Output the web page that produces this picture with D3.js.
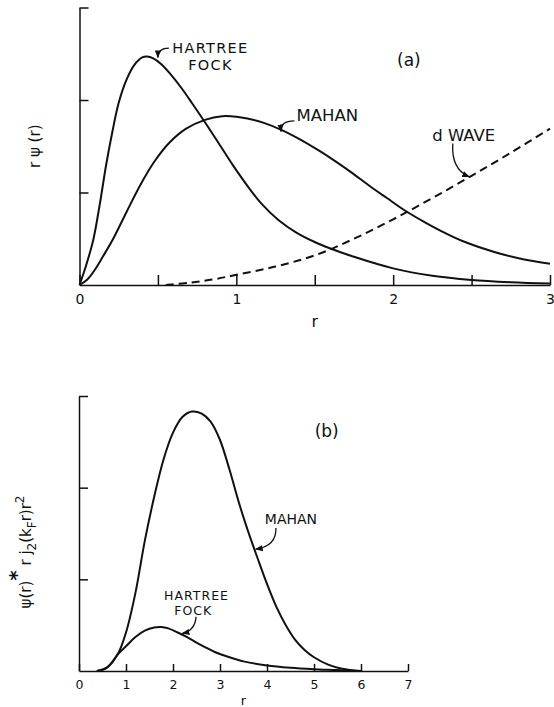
<!DOCTYPE html>
<html>
<head>
<meta charset="utf-8">
<title>r psi(r)</title>
<script src="https://cdn.jsdelivr.net/npm/d3@7"></script>
<style>
  body { margin: 0; background: #fff; }
  svg { font-family: "DejaVu Sans", sans-serif; }
  .curve { fill: none; stroke: #111; stroke-width: 2px; }
  .dash { stroke-dasharray: 8, 5; }
  .axis path, .axis line { stroke: #111; stroke-width: 1.5px; }
  .axis text { fill: #111; }
  .lead { fill: none; stroke: #111; stroke-width: 1.3px; }
  .lbl { fill: #111; }
</style>
</head>
<body>
<script>
// ---- panel (a): r psi(r) ----
var rHfA    = [0, 0.04, 0.088, 0.13, 0.17, 0.21, 0.25, 0.30, 0.35, 0.40, 0.43, 0.47, 0.52, 0.58, 0.65, 0.72, 0.80, 0.90, 0.98, 1.08, 1.16, 1.27, 1.38, 1.50, 1.60, 1.75, 2.0, 2.25, 2.5, 2.75, 3.0];
var hfA     = [0, 0.20, 0.49, 0.88, 1.30, 1.66, 1.97, 2.22, 2.38, 2.46, 2.47, 2.45, 2.39, 2.28, 2.13, 1.96, 1.76, 1.50, 1.29, 1.05, 0.88, 0.70, 0.57, 0.465, 0.395, 0.305, 0.18, 0.10, 0.055, 0.03, 0.015];
var rMahanA = [0, 0.05, 0.1, 0.15, 0.215, 0.3, 0.394, 0.48, 0.574, 0.68, 0.80, 0.91, 1.0, 1.07, 1.18, 1.29, 1.40, 1.52, 1.63, 1.74, 1.85, 1.96, 2.08, 2.2, 2.31, 2.45, 2.64, 2.8, 3.0];
var mahanA  = [0, 0.06, 0.17, 0.31, 0.50, 0.79, 1.10, 1.34, 1.54, 1.69, 1.785, 1.825, 1.82, 1.80, 1.75, 1.675, 1.58, 1.46, 1.34, 1.21, 1.07, 0.94, 0.80, 0.68, 0.58, 0.47, 0.36, 0.29, 0.23];
var rDWave  = [0.55, 0.7, 0.85, 1.0, 1.25, 1.5, 1.75, 2.0, 2.25, 2.5, 2.75, 3.0];
var dWave   = [0, 0.025, 0.06, 0.11, 0.2, 0.32, 0.5, 0.71, 0.94, 1.18, 1.43, 1.69];
var xTicksA = [0, 0.5, 1, 1.5, 2, 2.5, 3];

// ---- panel (b): psi(r)* r j2(kF r) r^2 ----
var rMahanB = [0.38, 0.6, 0.84, 1.0, 1.2, 1.4, 1.6, 1.8, 2.0, 2.2, 2.4, 2.6, 2.8, 3.0, 3.2, 3.4, 3.6, 3.8, 4.0, 4.2, 4.4, 4.6, 4.8, 5.0, 5.3, 5.6, 6.0];
var mahanB  = [0, 0.04, 0.2, 0.42, 0.85, 1.42, 1.90, 2.31, 2.60, 2.77, 2.83, 2.81, 2.72, 2.52, 2.20, 1.84, 1.52, 1.23, 0.95, 0.70, 0.50, 0.34, 0.23, 0.15, 0.07, 0.025, 0];
var rHfB    = [0.38, 0.6, 0.84, 1.0, 1.2, 1.4, 1.6, 1.75, 1.9, 2.1, 2.3, 2.5, 2.7, 2.9, 3.2, 3.5, 4.0, 4.5, 5.0, 5.5, 5.9];
var hfB     = [0, 0.04, 0.19, 0.27, 0.37, 0.44, 0.475, 0.48, 0.465, 0.42, 0.37, 0.31, 0.255, 0.205, 0.15, 0.105, 0.06, 0.035, 0.02, 0.01, 0];
var xTicksB = [0, 1, 2, 3, 4, 5, 6, 7];

var yTicks = [1, 2, 3];

var svg = d3.select("body").append("svg")
    .attr("width", 554)
    .attr("height", 707);

svg.append("defs").append("marker")
    .attr("id", "arr")
    .attr("viewBox", "0 0 10 10")
    .attr("refX", 9).attr("refY", 5)
    .attr("markerWidth", 6).attr("markerHeight", 6)
    .attr("orient", "auto")
  .append("path")
    .attr("d", "M0,1 L10,5 L0,9 z")
    .attr("fill", "#111");

function zip(rs, vs) { return rs.map(function(r, i) { return [r, vs[i]]; }); }

function panel(x, y, ticks, fontSize, tickLen) {
  var g = svg.append("g");
  g.append("g")
    .attr("class", "axis")
    .attr("transform", "translate(0," + y(0) + ")")
    .call(d3.axisBottom(x).tickValues(ticks).tickSizeInner(-tickLen).tickSizeOuter(0).tickPadding(9)
      .tickFormat(function(d) { return d % 1 === 0 ? d : ""; }))
    .attr("font-size", fontSize)
    .attr("font-family", null);
  g.append("g")
    .attr("class", "axis")
    .attr("transform", "translate(" + x(0) + ",0)")
    .call(d3.axisLeft(y).tickValues(yTicks).tickSizeInner(-9).tickSizeOuter(0).tickFormat(""));
  return g;
}

function curve(g, x, y, pts, dashed) {
  var line = d3.line()
    .x(function(d) { return x(d[0]); })
    .y(function(d) { return y(d[1]); })
    .curve(d3.curveCatmullRom.alpha(0.5));
  g.append("path")
    .datum(pts)
    .attr("class", dashed ? "curve dash" : "curve")
    .attr("d", line);
}

// leader line from label to curve, points in data units
function leader(g, x, y, p0, c, p1) {
  g.append("path")
    .attr("class", "lead")
    .attr("marker-end", "url(#arr)")
    .attr("d", "M" + x(p0[0]) + "," + y(p0[1]) + " Q" + x(c[0]) + "," + y(c[1]) + " " + x(p1[0]) + "," + y(p1[1]));
}

function label(g, x, y, r, v, txt, size, spacing) {
  g.append("text")
    .attr("class", "lbl")
    .attr("x", x(r)).attr("y", y(v))
    .attr("text-anchor", "middle")
    .attr("font-size", size)
    .attr("letter-spacing", spacing || 0)
    .text(txt);
}

// ---------- (a) ----------
var xA = d3.scaleLinear().domain([0, 3]).range([79.5, 550]);
var yA = d3.scaleLinear().domain([0, 3]).range([285, 7.5]);
var gA = panel(xA, yA, xTicksA, 14, 10);

curve(gA, xA, yA, zip(rHfA, hfA));
curve(gA, xA, yA, zip(rMahanA, mahanA));
curve(gA, xA, yA, zip(rDWave, dWave), true);

label(gA, xA, yA, 0.835, 2.51, "HARTREE", 14.5, 1.3);
label(gA, xA, yA, 0.835, 2.32, "FOCK", 14.5, 1.3);
leader(gA, xA, yA, [0.57, 2.56], [0.50, 2.56], [0.50, 2.46]);
label(gA, xA, yA, 2.10, 2.37, "(a)", 17);
label(gA, xA, yA, 1.58, 1.77, "MAHAN", 16.5);
leader(gA, xA, yA, [1.37, 1.775], [1.28, 1.775], [1.285, 1.66]);
label(gA, xA, yA, 2.45, 1.56, "d  WAVE", 16.5);
leader(gA, xA, yA, [2.38, 1.53], [2.37, 1.25], [2.485, 1.17]);

gA.append("text")
    .attr("class", "lbl")
    .attr("x", xA(1.5)).attr("y", 327)
    .attr("text-anchor", "middle")
    .attr("font-size", 16)
    .text("r");

gA.append("text")
    .attr("class", "lbl")
    .attr("transform", "translate(40," + yA(1.5) + ") rotate(-90)")
    .attr("text-anchor", "middle")
    .attr("font-size", 15)
    .text("r ψ (r)");

// ---------- (b) ----------
var xB = d3.scaleLinear().domain([0, 7]).range([79, 408]);
var yB = d3.scaleLinear().domain([0, 3]).range([671, 396]);
var gB = panel(xB, yB, xTicksB, 12.5, 7);

curve(gB, xB, yB, zip(rMahanB, mahanB));
curve(gB, xB, yB, zip(rHfB, hfB));

label(gB, xB, yB, 5.27, 2.55, "(b)", 17);
label(gB, xB, yB, 4.51, 1.60, "MAHAN", 14);
leader(gB, xB, yB, [4.19, 1.56], [4.2, 1.36], [3.76, 1.33]);
label(gB, xB, yB, 2.50, 0.78, "HARTREE", 12.5, 1);
label(gB, xB, yB, 2.43, 0.61, "FOCK", 12.5, 1);
leader(gB, xB, yB, [2.49, 0.59], [2.47, 0.44], [2.2, 0.41]);

gB.append("text")
    .attr("class", "lbl")
    .attr("x", xB(3.5)).attr("y", 705)
    .attr("text-anchor", "middle")
    .attr("font-size", 13)
    .text("r");

var yl = gB.append("text")
    .attr("class", "lbl")
    .attr("transform", "translate(31,552) rotate(-90)")
    .attr("text-anchor", "middle")
    .attr("font-size", 15);
yl.append("tspan").text("ψ(r)");
yl.append("tspan").attr("dy", -8).attr("font-size", 20).attr("font-weight", "bold").text("*");
yl.append("tspan").attr("dy", 8).text(" r j");
yl.append("tspan").attr("dy", 5).attr("font-size", 12).text("2");
yl.append("tspan").attr("dy", -5).text("(k");
yl.append("tspan").attr("dy", 5).attr("font-size", 12).text("F");
yl.append("tspan").attr("dy", -5).text("r)r");
yl.append("tspan").attr("dy", -7).attr("font-size", 12).text("2");
</script>
</body>
</html>
